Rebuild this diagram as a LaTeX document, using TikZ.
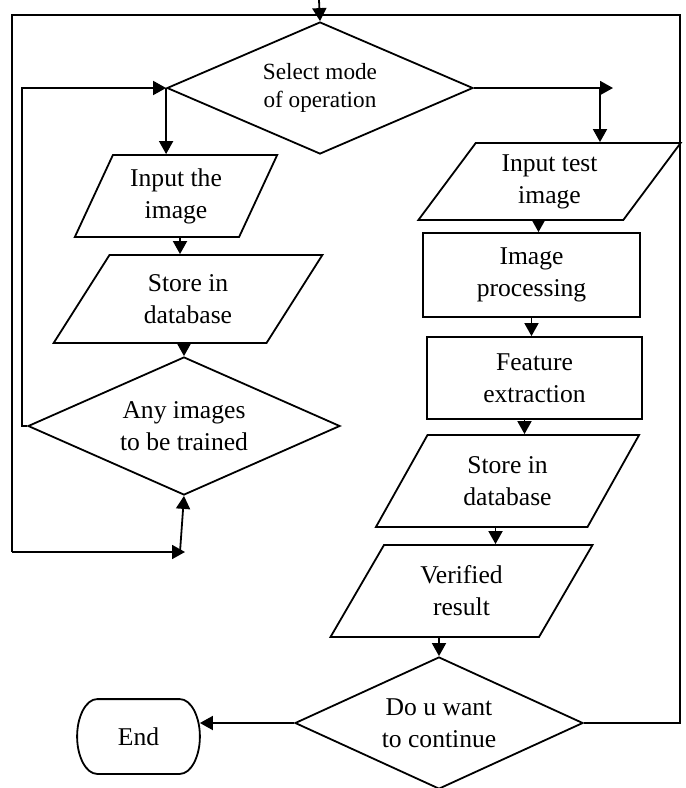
\documentclass[tikz,border=0pt]{standalone}
\usepackage{fontspec}
\setmainfont{Liberation Serif}
\usetikzlibrary{arrows.meta,shapes.geometric,calc}
\begin{document}
\begin{tikzpicture}[x=0.5pt,y=-0.5pt,
  every node/.style={font=\fontsize{12.8}{16}\selectfont, align=center, inner sep=0pt, line width=0.9pt},
  line/.style={line width=0.9pt},
  arr/.style={line width=0.9pt,-{Triangle[length=6.5pt,width=7pt]}},
  decision/.style={draw, diamond, aspect=2.3},
  iobox/.style={draw, trapezium, trapezium stretches=true,
    trapezium left angle=#1, trapezium right angle=180-#1},
  procbox/.style={draw, rectangle}
  ]
\useasboundingbox (0,0) rectangle (686,788);

% decisions
\node[decision, minimum width=153pt, minimum height=66pt,
      font=\fontsize{11.6}{14}\selectfont] (sel) at (320,88) {Select mode\\of operation};
\node[decision, minimum width=156pt, minimum height=69pt] (any) at (184,426) {Any images\\to be trained};
\node[decision, minimum width=144pt, minimum height=66pt] (dec) at (439,723) {Do u want\\to continue};

% training branch
\node[iobox=63.4, minimum width=102pt, minimum height=41pt] (in1) at (176,196) {Input the\\image};
\node[iobox=57.5, minimum width=135pt, minimum height=44pt] (st1) at (188,299) {Store in\\database};

% testing branch
\node[iobox=55.5, minimum width=131.5pt, minimum height=38.5pt] (in2) at (549.5,181.5) {Input test\\image};
\node[procbox, minimum width=108.5pt, minimum height=42pt] (ip) at (531.5,275) {Image\\processing};
\node[procbox, minimum width=107.5pt, minimum height=41pt] (fe) at (534.5,378) {Feature\\extraction};
\node[iobox=60, minimum width=132.5pt, minimum height=46pt] (st2) at (507.5,481) {Store in\\database};
\node[iobox=60.5, minimum width=131.5pt, minimum height=46pt] (ver) at (461.5,591) {Verified\\result};

% terminator with elliptical ends
\node[minimum width=60.5pt, minimum height=36.5pt] (end) at (138.5,736.5) {End};
\draw[line] ([xshift=10pt]end.north west) -- ([xshift=-10pt]end.north east)
  .. controls ([xshift=-4.48pt]end.north east) and ([yshift=10.08pt]end.east) .. (end.east)
  .. controls ([yshift=-10.08pt]end.east) and ([xshift=-4.48pt]end.south east) .. ([xshift=-10pt]end.south east)
  -- ([xshift=10pt]end.south west)
  .. controls ([xshift=4.48pt]end.south west) and ([yshift=-10.08pt]end.west) .. (end.west)
  .. controls ([yshift=10.08pt]end.west) and ([xshift=4.48pt]end.north west) .. ([xshift=10pt]end.north west)
  -- cycle;

% loose ends of the outer loop
\coordinate (entry) at (319,0);
\coordinate (tl) at (12,15);
\coordinate (tr) at (680,15);
\coordinate (bl) at (12,552);
\coordinate (hook) at (185,552);
\coordinate (selR) at (613,88);

% connectors
\draw[arr] (entry) -- (sel.north);
\draw[line] (dec.east) -- (dec.east -| tr) -- (tr) -- (tl) -- (bl);
\draw[arr] (bl) -- (hook);
\draw[arr] ([xshift=-2pt]any.south |- hook) -- (any.south);
\draw[arr] (any.west) -- ++(-5,0) |- (sel.west);
\draw[arr] (sel.west) -- (sel.west |- in1.north);
\draw[arr] (sel.east) -- (selR);
\draw[arr] ([xshift=-6.5pt]selR) -- ([xshift=-6.5pt]selR |- in2.north);
\draw[arr] ([xshift=2pt]in1.south) -- ([xshift=2pt]in1.south |- st1.north);
\draw[arr] (st1.south -| any.north) -- (any.north);
\draw[arr] ([xshift=3.5pt]ip.north |- in2.south) -- ([xshift=3.5pt]ip.north);
\draw[arr] (ip.south) -- (ip.south |- fe.north);
\draw[arr] ([xshift=-5pt]fe.south) -- ([xshift=-5pt]fe.south |- st2.north);
\draw[arr] ([xshift=-6pt]st2.south) -- ([xshift=-6pt]st2.south |- ver.north);
\draw[arr] (ver.south -| dec.north) -- (dec.north);
\draw[arr] (dec.west) -- (dec.west -| end.east);
\end{tikzpicture}
\end{document}
